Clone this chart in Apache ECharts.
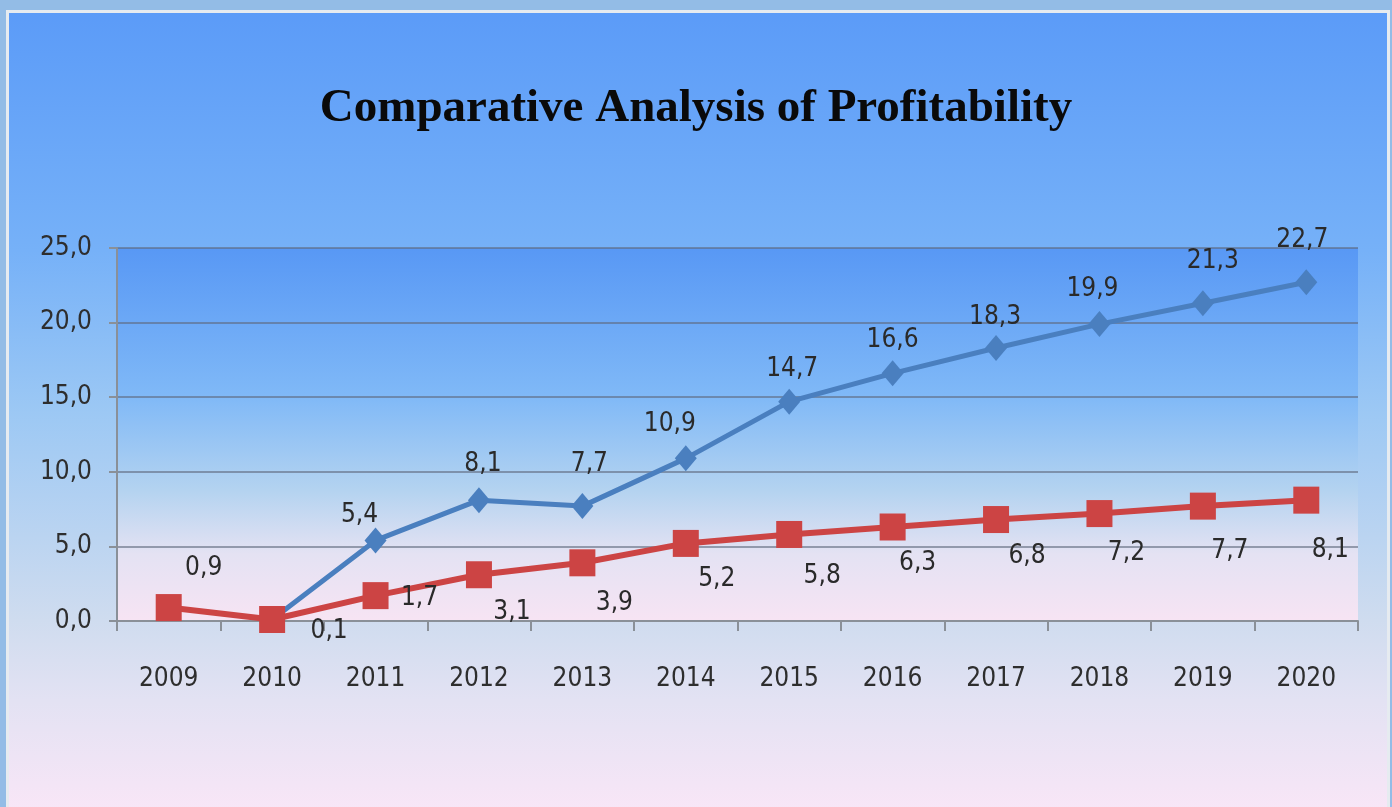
<!DOCTYPE html>
<html>
<head>
<meta charset="utf-8">
<title>Comparative Analysis of Profitability</title>
<script src="https://cdn.jsdelivr.net/npm/echarts@6/dist/echarts.min.js"></script>
<style>
  html, body { margin: 0; padding: 0; background: #93bce6; }
  #main { width: 1392px; height: 807px; }
</style>
</head>
<body>
<div id="main"></div>
<script>
// data
var years = ['2009', '2010', '2011', '2012', '2013', '2014', '2015', '2016', '2017', '2018', '2019', '2020'];
var blueValues = [null, 0.1, 5.4, 8.1, 7.7, 10.9, 14.7, 16.6, 18.3, 19.9, 21.3, 22.7];
var redValues = [0.9, 0.1, 1.7, 3.1, 3.9, 5.2, 5.8, 6.3, 6.8, 7.2, 7.7, 8.1];
var yTicks = [0, 5, 10, 15, 20, 25];

// label placement relative to each point (style only)
var blueLabelOffset = [[0, 0], [0, 0], [-16, -25], [4, -36], [7, -42], [-16, -34], [3, -32], [0, -33], [-1, -31], [-7, -35], [10, -42], [-4, -42]];
var redLabelOffset = [[35, -39], [57, 12], [44, 3], [33, 38], [32, 40], [31, 36], [33, 42], [25, 36], [31, 37], [27, 40], [27, 45], [24, 50]];

var narrow = "'DejaVu Sans Condensed', 'Liberation Sans Narrow', sans-serif";
function comma(v) { return v.toFixed(1).replace('.', ','); }

function buildData(values, offsets, hide) {
  return values.map(function (v, i) {
    if (v === null) return null;
    return {
      value: v,
      label: { show: hide.indexOf(i) < 0, offset: offsets[i] }
    };
  });
}

var labelStyle = {
  show: true,
  position: 'inside',
  fontFamily: narrow,
  fontSize: 26,
  color: '#2a2a2a',
  formatter: function (p) { return comma(p.value); }
};

var chart = echarts.init(document.getElementById('main'));
chart.setOption({
  backgroundColor: '#93bce6',
  animation: false,
  graphic: [{
    type: 'rect',
    z: -10,
    shape: { x: 7.5, y: 11.5, width: 1381, height: 800 },
    style: {
      fill: {
        type: 'linear', x: 0, y: 0, x2: 0, y2: 1,
        colorStops: [
          { offset: 0, color: '#5b9bf8' },
          { offset: 0.3, color: '#76b1f8' },
          { offset: 0.5, color: '#9cc8f4' },
          { offset: 0.76, color: '#cfdcef' },
          { offset: 0.86, color: '#e3e2f3' },
          { offset: 1, color: '#f9e6f7' }
        ]
      },
      stroke: '#e6ebf0',
      lineWidth: 3
    }
  }],
  title: {
    text: 'Comparative Analysis of Profitability',
    left: 'center',
    top: 80,
    textStyle: {
      fontFamily: "'Liberation Serif', 'Times New Roman', serif",
      fontWeight: 'bold',
      fontSize: 47,
      color: '#0a0a0a'
    }
  },
  grid: {
    left: 117,
    right: 34,
    top: 248,
    bottom: 186,
    show: true,
    borderWidth: 0,
    backgroundColor: {
      type: 'linear', x: 0, y: 0, x2: 0, y2: 1,
      colorStops: [
        { offset: 0, color: '#5898f5' },
        { offset: 0.4, color: '#80b9f7' },
        { offset: 0.65, color: '#b4d3f0' },
        { offset: 0.82, color: '#e4e2f3' },
        { offset: 1, color: '#f7e4f3' }
      ]
    }
  },
  xAxis: {
    type: 'category',
    data: years,
    boundaryGap: true,
    axisLine: { lineStyle: { color: '#8a9098', width: 2 } },
    axisTick: { show: true, length: 10, lineStyle: { color: '#8a9098', width: 2 } },
    axisLabel: {
      margin: 45,
      fontFamily: narrow,
      fontSize: 26,
      color: '#2e2e2e'
    },
    splitLine: { show: false }
  },
  yAxis: {
    type: 'value',
    min: yTicks[0],
    max: yTicks[yTicks.length - 1],
    interval: 5,
    axisLine: { show: true, lineStyle: { color: '#8a9098', width: 2 } },
    axisTick: { show: true, length: 8, lineStyle: { color: '#8a9098', width: 2 } },
    axisLabel: {
      margin: 25,
      fontFamily: narrow,
      fontSize: 26,
      color: '#2e2e2e',
      formatter: function (v) { return comma(v); }
    },
    splitLine: { lineStyle: { color: 'rgba(95,105,125,0.6)', width: 2 } }
  },
  series: [
    {
      name: 'blue',
      type: 'line',
      data: buildData(blueValues, blueLabelOffset, [1]),
      symbol: 'diamond',
      symbolSize: [22, 26],
      connectNulls: false,
      z: 3,
      lineStyle: { color: '#4a7fbf', width: 5 },
      itemStyle: { color: '#4a7fbf' },
      label: labelStyle
    },
    {
      name: 'red',
      type: 'line',
      data: buildData(redValues, redLabelOffset, []),
      symbol: 'rect',
      symbolSize: [26, 27],
      z: 4,
      lineStyle: { color: '#cc4444', width: 6 },
      itemStyle: { color: '#cc4444' },
      label: labelStyle
    }
  ]
});
</script>
</body>
</html>
